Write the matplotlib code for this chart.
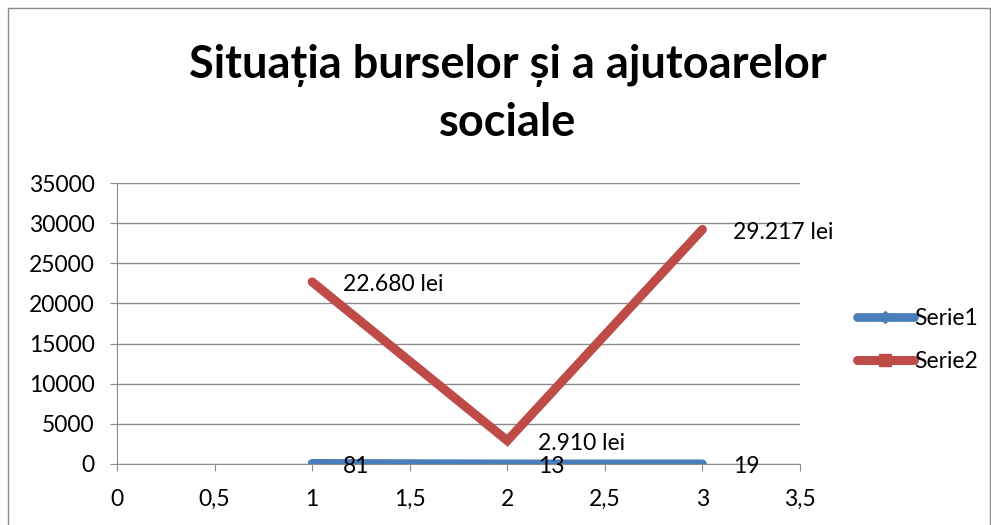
import matplotlib
matplotlib.use("Agg")
import matplotlib.pyplot as plt
from matplotlib.lines import Line2D
from matplotlib.patches import Rectangle
from matplotlib.ticker import FuncFormatter

plt.rcParams["font.family"] = ["Lato", "DejaVu Sans"]

x_vals = [1, 2, 3]
serie1 = [81, 13, 19]
serie2 = [22680, 2910, 29217]
serie1_labels = ["81", "13", "19"]
serie2_labels = ["22.680 lei", "2.910 lei", "29.217 lei"]
series_names = ["Serie1", "Serie2"]
title = "Situația burselor și a ajutoarelor\nsociale"

blue = "#4A7EBB"
red = "#BE4B48"
grid_col = "#8C8C8C"

fig = plt.figure(figsize=(9.91, 5.25), dpi=100)
ax = fig.add_axes([117 / 991, 61 / 525, 683 / 991, 281 / 525])

ax.plot(x_vals, serie2, color=red, lw=6.5, solid_capstyle="round",
        solid_joinstyle="miter", zorder=3)
ax.plot(x_vals, serie1, color=blue, lw=6.3, solid_capstyle="round", zorder=4)

for xv, yv, t in zip(x_vals, serie1, serie1_labels):
    ax.annotate(t, (xv, yv), xytext=(22, -2), textcoords="offset points",
                ha="left", va="center", fontsize=16.5, color="black", zorder=5)
for xv, yv, t in zip(x_vals, serie2, serie2_labels):
    ax.annotate(t, (xv, yv), xytext=(22, -2), textcoords="offset points",
                ha="left", va="center", fontsize=16.5, color="black", zorder=5)

ax.set_xlim(0, 3.5)
ax.set_ylim(0, 35000)
ax.set_xticks([0, 0.5, 1, 1.5, 2, 2.5, 3, 3.5])
ax.set_yticks(range(0, 35001, 5000))
ax.xaxis.set_major_formatter(FuncFormatter(lambda v, p: f"{v:g}".replace(".", ",")))
ax.yaxis.grid(True, color=grid_col, lw=1)
ax.set_axisbelow(True)
for s in ["top", "right"]:
    ax.spines[s].set_visible(False)
for s in ["left", "bottom"]:
    ax.spines[s].set_color(grid_col)
ax.tick_params(axis="both", colors=grid_col, labelcolor="black", labelsize=16.5,
               length=5, direction="out")
ax.tick_params(axis="y", pad=11)
ax.tick_params(axis="x", pad=13)

fig.text(508 / 991, 1 - 94 / 525, title, ha="center", va="center",
         fontsize=32.5, fontweight="bold", linespacing=1.45)

handles = [
    Line2D([], [], color=blue, lw=6.3, solid_capstyle="round", marker="D", ms=6),
    Line2D([], [], color=red, lw=6.5, solid_capstyle="round", marker="s", ms=9),
]
fig.legend(handles, series_names, loc="center left",
           bbox_to_anchor=(836 / 991, 1 - 340 / 525), frameon=False,
           fontsize=16.5, handlelength=2.5, handletextpad=0.0,
           labelspacing=1.0)

fig.patches.append(Rectangle((8 / 991, -0.01), 982 / 991, 1.01 - 8 / 525,
                             transform=fig.transFigure, fill=False,
                             edgecolor="#8C8C8C", lw=1))

fig.savefig("out.png", dpi=100)
